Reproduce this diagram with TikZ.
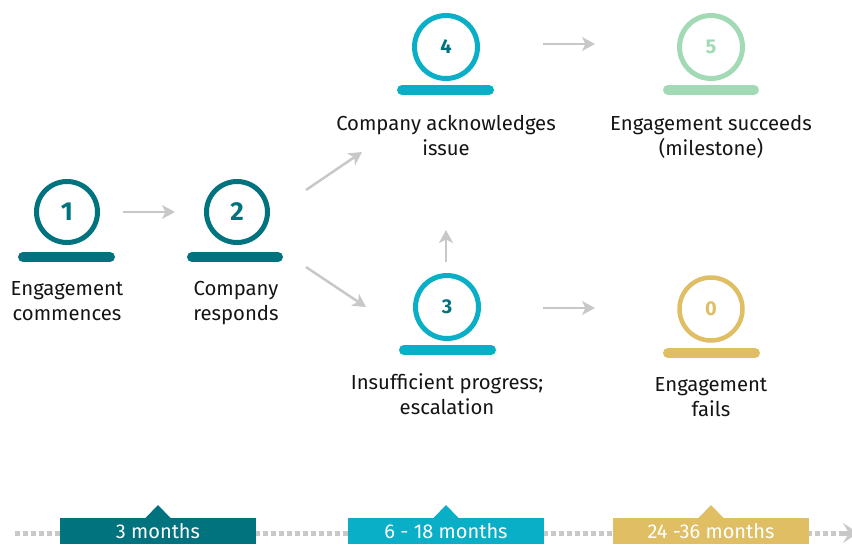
\documentclass[tikz,border=0pt]{standalone}
\usepackage{fontspec}
\setmainfont{Fira Sans}
\usetikzlibrary{arrows.meta,calc}
\definecolor{dteal}{HTML}{00737F}
\definecolor{cyanc}{HTML}{09AFC7}
\definecolor{greenc}{HTML}{A1DAB5}
\definecolor{goldc}{HTML}{DFBE64}
\definecolor{grayc}{HTML}{C8C8C8}
\begin{document}
\begin{tikzpicture}[x=1pt,y=-1pt,
  ring/.style={circle,line width=5pt,minimum size=61pt,inner sep=0pt},
  bignum/.style={font=\bfseries\fontsize{26}{26}\selectfont},
  smallnum/.style={font=\bfseries\fontsize{20}{20}\selectfont},
  bar/.style={line width=10pt,line cap=round},
  lbl/.style={align=center,inner sep=0pt,font=\fontsize{20.3}{25}\selectfont,text=black!92},
  arr/.style={grayc,line width=2.5pt,-{Stealth[length=13pt,width=14pt,inset=3.5pt]}},
  tbox/.style={minimum width=196pt,minimum height=26pt,inner sep=0pt,anchor=north,text=white,font=\fontsize{20}{20}\selectfont},
]
\useasboundingbox (0,0) rectangle (852,544);
% circles
\node[ring,draw=dteal,text=dteal,bignum] (c1) at (67,212) {1};
\node[ring,draw=dteal,text=dteal,bignum] (c2) at (237,212) {2};
\node[ring,draw=cyanc,text=dteal,smallnum,minimum size=63pt] (c4) at (446,47) {4};
\node[ring,draw=greenc,text=greenc,smallnum,minimum size=63pt] (c5) at (711,47) {5};
\node[ring,draw=cyanc,text=dteal,smallnum,minimum size=63pt] (c3) at (447,307) {3};
\node[ring,draw=goldc,text=goldc,smallnum,minimum size=63pt,line width=4.5pt] (c0) at (711,309) {0};
% bars
\draw[bar,dteal] ($(c1)+(-44,45)$) -- ($(c1)+(43,45)$);
\draw[bar,dteal] ($(c2)+(-45,45)$) -- ($(c2)+(41,45)$);
\draw[bar,cyanc] ($(c4)+(-44,43)$) -- ($(c4)+(43,43)$);
\draw[bar,greenc] ($(c5)+(-43,43)$) -- ($(c5)+(43,43)$);
\draw[bar,cyanc] ($(c3)+(-43,43)$) -- ($(c3)+(44,43)$);
\draw[bar,goldc] ($(c0)+(-43,44)$) -- ($(c0)+(44,44)$);
% labels
\node[lbl] (l1) at (67,303) {\strut Engagement\\\strut commences};
\node[lbl] (l2) at (236,303) {\strut Company\\\strut responds};
\node[lbl] (l4) at (446,138) {\strut Company acknowledges\\\strut issue};
\node[lbl] (l5) at (711,138) {\strut Engagement succeeds\\\strut (milestone)};
\node[lbl] (l3) at (447,397) {\strut Insufficient progress;\\\strut escalation};
\node[lbl] (l0) at (711,399) {\strut Engagement\\\strut fails};
% arrows
\draw[arr] ($(c1)+(56,0)$) -- ($(c2)+(-62,0)$);
\draw[arr] ($(c4)+(97,-3)$) -- ($(c5)+(-116,-3)$);
\draw[arr] ($(c3)+(96,1)$) -- ($(c0)+(-116,-1)$);
\draw[arr] ($(c3)+(-1,-45)$) -- ($(c3)+(-1,-77)$);
\draw[arr] ($(c2)+(69,-22)$) -- ($(c4)+(-84,105)$);
\draw[arr] ($(c2)+(69,55)$) -- ($(c3)+(-81,0)$);
% timeline
\coordinate (t0) at (15,533);
\coordinate (t1) at (842,533);
\draw[grayc,line width=5pt,dash pattern=on 5pt off 3pt] (t0) -- (t1);
\draw[grayc,line width=5pt,-{Stealth[length=15pt,width=20pt,inset=6pt]}] (t1) -- ++(16,0);
\node[tbox,fill=dteal] (b1) at (158,518) {3 months};
\node[tbox,fill=cyanc] (b2) at (446,518) {6 - 18 months};
\node[tbox,fill=goldc] (b3) at (711,518) {24 -36 months};
\fill[dteal] ($(b1.north)+(-13,0.5)$) -- ($(b1.north)+(0,-13)$) -- ($(b1.north)+(13,0.5)$) -- cycle;
\fill[cyanc] ($(b2.north)+(-13,0.5)$) -- ($(b2.north)+(0,-13)$) -- ($(b2.north)+(13,0.5)$) -- cycle;
\fill[goldc] ($(b3.north)+(-13,0.5)$) -- ($(b3.north)+(0,-13)$) -- ($(b3.north)+(13,0.5)$) -- cycle;
\end{tikzpicture}
\end{document}
